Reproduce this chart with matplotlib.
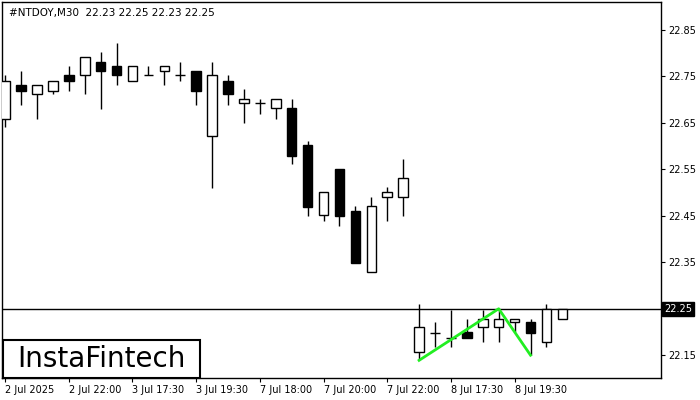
import matplotlib
matplotlib.use("Agg")
import matplotlib.pyplot as plt
from matplotlib.patches import Rectangle

opens  = [22.659,22.732,22.711,22.719,22.752,22.752,22.781,22.773,22.741,22.752,22.762,22.752,22.762,22.621,22.741,22.692,22.692,22.681,22.681,22.602,22.452,22.550,22.460,22.328,22.490,22.490,22.158,22.197,22.188,22.199,22.210,22.210,22.221,22.221,22.178,22.229]
highs  = [22.752,22.762,22.732,22.741,22.773,22.792,22.803,22.822,22.773,22.773,22.773,22.781,22.762,22.781,22.752,22.722,22.702,22.702,22.702,22.610,22.501,22.550,22.471,22.490,22.512,22.572,22.261,22.221,22.248,22.229,22.248,22.250,22.229,22.229,22.261,22.250]
lows   = [22.640,22.689,22.659,22.711,22.719,22.711,22.679,22.732,22.741,22.752,22.732,22.741,22.689,22.510,22.689,22.649,22.670,22.659,22.561,22.450,22.439,22.428,22.349,22.328,22.439,22.450,22.139,22.167,22.167,22.188,22.178,22.178,22.199,22.150,22.167,22.229]
closes = [22.741,22.719,22.732,22.741,22.741,22.792,22.762,22.752,22.773,22.752,22.773,22.752,22.719,22.752,22.711,22.702,22.692,22.702,22.578,22.469,22.501,22.450,22.349,22.471,22.501,22.531,22.210,22.197,22.188,22.188,22.229,22.229,22.229,22.197,22.250,22.250]
tick_idx = [0,4,8,12,16,20,24,28,32]
tick_labels = ["2 Jul 2025","2 Jul 22:00","3 Jul 17:30","3 Jul 19:30","7 Jul 18:00","7 Jul 20:00","7 Jul 22:00","8 Jul 17:30","8 Jul 19:30"]
yticks = [22.15,22.25,22.35,22.45,22.55,22.65,22.75,22.85]
pattern_idx = [26,31,33]
pattern_px = [22.139,22.250,22.150]
last_price = 22.25

fig = plt.figure(figsize=(7,4), dpi=100)
ax = fig.add_axes([0.003, 22/400, 659/700, 376/400])
w = 0.6
for i,(o,h,l,c) in enumerate(zip(opens,highs,lows,closes)):
    ax.vlines(i, l, h, color="black", lw=1, zorder=2)
    lo, hi = min(o,c), max(o,c)
    if hi-lo < 0.002:
        ax.hlines(o, i-w/2, i+w/2, color="black", lw=1, zorder=3)
    else:
        ax.add_patch(Rectangle((i-w/2, lo), w, hi-lo, facecolor="black" if c<o else "white",
                               edgecolor="black", lw=1, zorder=3))
ax.axhline(last_price, color="black", lw=1, zorder=1)
ax.plot(pattern_idx, pattern_px, color="#22ee22", lw=2, zorder=4)
ax.set_xlim(-0.19, 41.2)
ax.set_ylim(22.101, 22.91)
ax.yaxis.tick_right()
ax.set_yticks(yticks)
ax.set_yticklabels(["" if abs(v-last_price) < 1e-9 else f"{v:.2f}" for v in yticks], fontsize=7)
ax.set_xticks(tick_idx)
ax.set_xticklabels(tick_labels, fontsize=7, ha="left")
ax.tick_params(length=3, pad=2)
for s in ax.spines.values():
    s.set_linewidth(1)
ax.text(0.01, 0.985, "#NTDOY,M30  22.23 22.25 22.23 22.25", transform=ax.transAxes,
        fontsize=7.5, va="top", ha="left")
ax.text(1.005, (last_price-22.101)/(22.91-22.101), "22.25", transform=ax.transAxes, fontsize=7,
        va="center", ha="left", color="white",
        bbox=dict(boxstyle="square,pad=0.2", fc="black", ec="black"))
fig.patches.append(Rectangle((3/700, 22/400), 197/700, 38/400, transform=fig.transFigure,
                             facecolor="white", edgecolor="black", lw=1.5, zorder=10))
fig.text(101/700, 41/400, "InstaFintech", fontsize=20, ha="center", va="center", zorder=11)
fig.savefig("out.png", dpi=100)
